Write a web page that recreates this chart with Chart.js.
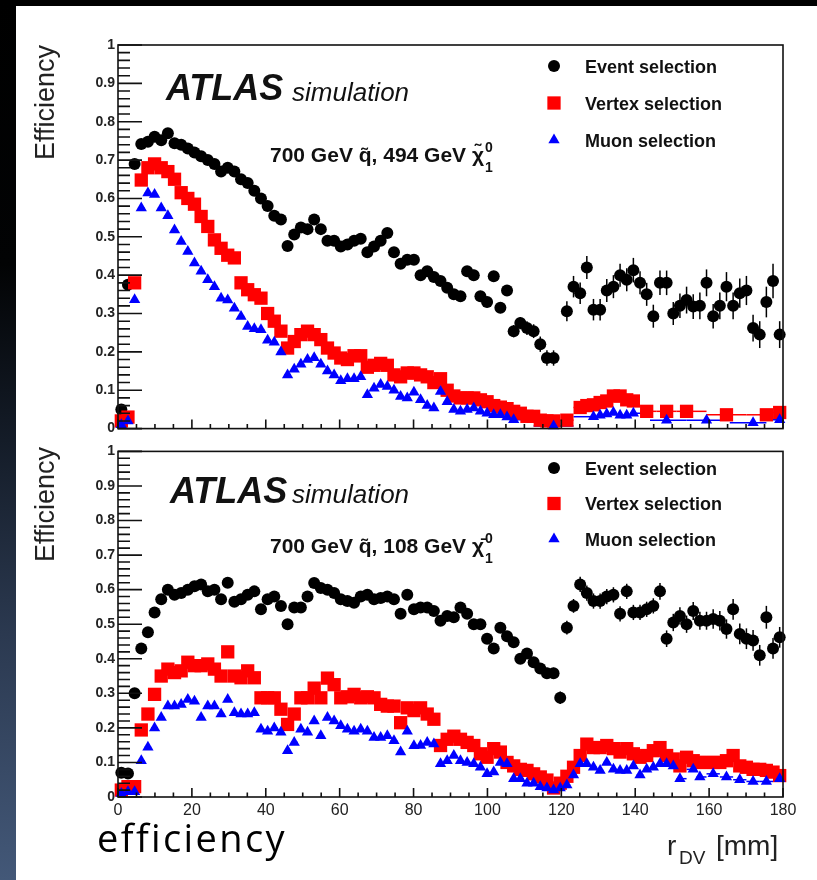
<!DOCTYPE html>
<html>
<head>
<meta charset="utf-8">
<title>Efficiency vs r_DV</title>
<script src="https://cdn.jsdelivr.net/npm/chart.js@4.4.1/dist/chart.umd.min.js"></script>
<style>
  html, body { margin: 0; padding: 0; background: #000; }
  #page { position: relative; width: 817px; height: 880px; overflow: hidden; background: #000; }
  #strip { position: absolute; left: 0; top: 0; width: 16px; height: 880px;
           background: linear-gradient(to bottom, #000 0%, #020304 30%, #141c28 50%, #2b3950 72%, #435878 100%); }
  #panel { position: absolute; left: 16px; top: 6px; width: 801px; height: 874px; background: #fff; }
  canvas { position: absolute; left: 0; }
  #topChart { top: 0; }
  #bottomChart { top: 440px; }
</style>
</head>
<body>
<div id="page">
  <div id="strip"></div>
  <div id="panel"></div>
  <canvas id="topChart" width="817" height="440"></canvas>
  <canvas id="bottomChart" width="817" height="440"></canvas>
</div>
<script>
// r_DV bin centres [mm]
const rBins = [
  0.9, 2.7, 4.5, 6.3, 8.1, 9.9, 11.7, 13.5, 15.3, 17.1,
  18.9, 20.7, 22.5, 24.3, 26.1, 27.9, 29.7, 31.5, 33.3, 35.1,
  36.9, 38.7, 40.5, 42.3, 44.1, 45.9, 47.7, 49.5, 51.3, 53.1,
  54.9, 56.7, 58.5, 60.3, 62.1, 63.9, 65.7, 67.5, 69.3, 71.1,
  72.9, 74.7, 76.5, 78.3, 80.1, 81.9, 83.7, 85.5, 87.3, 89.1,
  90.9, 92.7, 94.5, 96.3, 98.1, 99.9, 101.7, 103.5, 105.3, 107.1,
  108.9, 110.7, 112.5, 114.3, 116.1, 117.9, 119.7, 121.5, 123.3, 125.1,
  126.9, 128.7, 130.5, 132.3, 134.1, 135.9, 137.7, 139.5, 141.3, 143.1,
  144.9, 146.7, 148.5, 150.3, 152.1, 153.9, 155.7, 157.5, 159.3, 161.1,
  162.9, 164.7, 166.5, 168.3, 170.1, 171.9, 173.7, 175.5, 177.3, 179.1
];

const xTickVals = [0, 20, 40, 60, 80, 100, 120, 140, 160, 180];
const yTickVals = [0, 0.1, 0.2, 0.3, 0.4, 0.5, 0.6, 0.7, 0.8, 0.9, 1];
const yTickLabels = ['0', '0.1', '0.2', '0.3', '0.4', '0.5', '0.6', '0.7', '0.8', '0.9', '1'];
const seriesNames = ['Event selection', 'Vertex selection', 'Muon selection'];

// 700 GeV squark, 494 GeV neutralino
const eventTop = [
  0.05, 0.375, 0.69, 0.742, 0.748, 0.761, 0.752, 0.77, 0.744, 0.74,
  0.73, 0.72, 0.71, 0.70, 0.69, 0.67, 0.68, 0.67, 0.65, 0.64,
  0.62, 0.60, 0.58, 0.555, 0.545, 0.476, 0.506, 0.524, 0.52, 0.545,
  0.52, 0.49, 0.49, 0.475, 0.48, 0.49, 0.495, 0.46, 0.475, 0.49,
  0.51, 0.46, 0.43, 0.44, 0.44, 0.40, 0.41, 0.395, 0.385, 0.367,
  0.35, 0.345, 0.41, 0.40, 0.345, 0.33, 0.397, 0.315, 0.36, 0.254,
  0.275, 0.262, 0.254, 0.22, 0.184, 0.184, null, 0.306, 0.37, 0.353,
  0.42, 0.31, 0.31, 0.36, 0.37, 0.40, 0.388, 0.413, 0.38, 0.35,
  0.293, 0.38, 0.38, 0.30, 0.32, 0.335, 0.318, 0.32, 0.38, 0.293,
  0.32, 0.37, 0.32, 0.353, 0.36, 0.262, 0.245, 0.33, 0.385, 0.245
];
const eventErrTop = [
  0.01, 0.01, 0.01, 0.008, 0.008, 0.008, 0.008, 0.008, 0.008, 0.008,
  0.008, 0.008, 0.008, 0.008, 0.008, 0.008, 0.008, 0.008, 0.008, 0.008,
  0.008, 0.008, 0.008, 0.008, 0.008, 0.008, 0.008, 0.008, 0.008, 0.008,
  0.01, 0.01, 0.01, 0.01, 0.01, 0.01, 0.01, 0.01, 0.01, 0.01,
  0.012, 0.012, 0.012, 0.012, 0.012, 0.012, 0.012, 0.012, 0.012, 0.012,
  0.014, 0.014, 0.014, 0.014, 0.014, 0.014, 0.014, 0.014, 0.014, 0.016,
  0.016, 0.018, 0.018, 0.02, 0.02, 0.02, 0, 0.026, 0.028, 0.028,
  0.03, 0.028, 0.028, 0.03, 0.03, 0.03, 0.03, 0.032, 0.03, 0.03,
  0.03, 0.032, 0.032, 0.03, 0.032, 0.035, 0.032, 0.035, 0.035, 0.032,
  0.035, 0.038, 0.035, 0.038, 0.038, 0.035, 0.035, 0.04, 0.045, 0.035
];
const vertexTop = [
  0.02, 0.03, 0.38, 0.648, 0.68, 0.69, 0.68, 0.67, 0.65, 0.615,
  0.60, 0.585, 0.553, 0.527, 0.492, 0.47, 0.452, 0.445, 0.38, 0.362,
  0.349, 0.34, 0.30, 0.28, 0.254, 0.21, 0.227, 0.245, 0.254, 0.245,
  0.232, 0.21, 0.197, 0.184, 0.18, 0.19, 0.19, 0.16, 0.165, 0.17,
  0.165, 0.14, 0.135, 0.145, 0.145, 0.14, 0.135, 0.12, 0.13, 0.10,
  0.085, 0.08, 0.08, 0.08, 0.075, 0.07, 0.06, 0.056, 0.052, 0.045,
  0.04, 0.032, 0.032, 0.022, 0.02, 0.02, null, 0.022, null, 0.055,
  0.06, 0.062, 0.068, 0.072, 0.085, 0.085, 0.075, 0.072, null, 0.045,
  null, null, 0.045, null, null, 0.045, null, null, null, null,
  null, 0.036, null, null, null, null, null, 0.036, null, 0.042
];
const muonTop = [
  0.01, 0.02, 0.336, 0.575, 0.614, 0.61, 0.575, 0.555, 0.518, 0.488,
  0.462, 0.432, 0.41, 0.388, 0.37, 0.34, 0.335, 0.314, 0.292, 0.266,
  0.26, 0.258, 0.23, 0.225, 0.20, 0.14, 0.155, 0.168, 0.18, 0.185,
  0.168, 0.15, 0.14, 0.125, 0.13, 0.13, 0.135, 0.088, 0.105, 0.115,
  0.11, 0.10, 0.084, 0.08, 0.095, 0.075, 0.06, 0.054, 0.097, 0.07,
  0.05, 0.045, 0.05, 0.054, 0.045, 0.04, 0.036, 0.036, 0.03, 0.023,
  null, null, null, null, null, 0.007, null, null, null, null,
  null, 0.031, 0.035, 0.038, 0.042, 0.035, 0.035, 0.04, null, null,
  null, null, 0.022, null, null, null, null, null, 0.022, null,
  null, null, null, null, null, 0.015, null, null, null, 0.023
];

// 700 GeV squark, 108 GeV neutralino
const eventBottom = [
  0.07, 0.068, 0.30, 0.43, 0.477, 0.534, 0.572, 0.60, 0.585, 0.59,
  0.60, 0.61, 0.615, 0.595, 0.60, 0.572, 0.62, 0.565, 0.572, 0.585,
  0.595, 0.543, 0.572, 0.58, 0.553, 0.50, 0.548, 0.548, 0.58, 0.619,
  0.605, 0.60, 0.59, 0.572, 0.567, 0.562, 0.58, 0.585, 0.572, 0.576,
  0.58, 0.572, 0.53, 0.585, 0.543, 0.548, 0.548, 0.538, 0.51, 0.524,
  0.52, 0.548, 0.53, 0.50, 0.50, 0.458, 0.43, 0.49, 0.465, 0.448,
  0.40, 0.415, 0.39, 0.372, 0.358, 0.358, 0.287, 0.49, 0.553, 0.615,
  0.59, 0.567, 0.567, 0.58, 0.585, 0.53, 0.595, 0.534, 0.534, 0.543,
  0.553, 0.595, 0.458, 0.505, 0.524, 0.50, 0.538, 0.51, 0.51, 0.515,
  0.51, 0.486, 0.543, 0.472, 0.458, 0.453, 0.41, 0.52, 0.43, 0.462
];
const eventErrBottom = [
  0.01, 0.01, 0.01, 0.01, 0.01, 0.008, 0.008, 0.008, 0.008, 0.008,
  0.008, 0.008, 0.008, 0.008, 0.008, 0.008, 0.008, 0.008, 0.008, 0.008,
  0.008, 0.008, 0.008, 0.008, 0.008, 0.008, 0.008, 0.008, 0.008, 0.008,
  0.009, 0.009, 0.009, 0.009, 0.009, 0.009, 0.009, 0.009, 0.009, 0.009,
  0.01, 0.01, 0.01, 0.01, 0.01, 0.01, 0.01, 0.01, 0.01, 0.01,
  0.012, 0.012, 0.012, 0.012, 0.012, 0.012, 0.012, 0.012, 0.012, 0.012,
  0.014, 0.014, 0.015, 0.015, 0.016, 0.016, 0.018, 0.02, 0.02, 0.022,
  0.022, 0.022, 0.022, 0.022, 0.022, 0.022, 0.022, 0.022, 0.022, 0.022,
  0.022, 0.024, 0.024, 0.025, 0.025, 0.025, 0.026, 0.026, 0.026, 0.028,
  0.028, 0.028, 0.03, 0.03, 0.03, 0.03, 0.03, 0.033, 0.03, 0.03
];
const vertexBottom = [
  0.02, 0.03, 0.03, 0.194, 0.24, 0.297, 0.35, 0.37, 0.36, 0.365,
  0.39, 0.38, 0.38, 0.385, 0.37, 0.35, 0.42, 0.35, 0.345, 0.365,
  0.345, 0.287, 0.287, 0.287, 0.254, 0.21, 0.24, 0.287, 0.287, 0.315,
  0.287, 0.344, 0.325, 0.287, 0.29, 0.297, 0.287, 0.29, 0.287, 0.268,
  0.263, 0.263, 0.215, 0.258, 0.25, 0.258, 0.24, 0.225, 0.149, 0.167,
  0.176, 0.167, 0.158, 0.149, 0.125, 0.115, 0.14, 0.13, 0.10, 0.09,
  0.08, 0.077, 0.067, 0.058, 0.049, 0.026, 0.04, 0.06, 0.086, 0.12,
  0.153, 0.143, 0.143, 0.149, 0.14, 0.13, 0.14, 0.125, 0.115, 0.12,
  0.134, 0.143, 0.12, 0.11, 0.09, 0.115, 0.105, 0.10, 0.10, 0.10,
  0.10, 0.105, 0.12, 0.09, 0.086, 0.08, 0.08, 0.077, 0.072, 0.062
];
const muonBottom = [
  0.01, 0.015, 0.015, 0.105, 0.144, 0.20, 0.23, 0.263, 0.263, 0.268,
  0.282, 0.277, 0.23, 0.263, 0.263, 0.24, 0.282, 0.244, 0.24, 0.24,
  0.244, 0.196, 0.19, 0.20, 0.187, 0.134, 0.158, 0.196, 0.187, 0.22,
  0.177, 0.23, 0.22, 0.206, 0.196, 0.19, 0.196, 0.19, 0.172, 0.172,
  0.177, 0.163, 0.13, 0.19, 0.148, 0.149, 0.158, 0.153, 0.096, 0.105,
  0.12, 0.105, 0.10, 0.096, 0.086, 0.067, 0.072, 0.10, 0.096, 0.053,
  0.053, 0.04, 0.04, 0.03, 0.026, 0.02, 0.026, 0.035, 0.064, 0.096,
  0.096, 0.086, 0.077, 0.10, 0.08, 0.077, 0.077, 0.09, 0.064, 0.08,
  0.086, 0.096, 0.096, 0.09, 0.053, null, 0.08, 0.058, null, 0.067,
  null, 0.058, null, 0.05, null, 0.045, null, 0.045, null, 0.053
];

const FONT = '"Liberation Sans", Arial, Helvetica, sans-serif';

/**
 * ROOT-like frame: error bars, inward ticks, labels and legend
 */
const rootStyle = {
    id: 'rootStyle',
    beforeDatasetsDraw(chart, args, o) {
        const { ctx, scales: { x, y } } = chart;
        ctx.save();
        ctx.lineWidth = 1.5;

        // vertical errors on the event selection
        ctx.strokeStyle = '#000';
        chart.data.datasets[0].data.forEach(function (p, i) {
            if (p.y === null || !o.errors[i]) return;
            const px = x.getPixelForValue(p.x);
            ctx.beginPath();
            ctx.moveTo(px, y.getPixelForValue(p.y - o.errors[i]));
            ctx.lineTo(px, y.getPixelForValue(p.y + o.errors[i]));
            ctx.stroke();
        });

        // horizontal bin-width bars on vertex and muon points
        [1, 2].forEach(function (d) {
            const ds = chart.data.datasets[d];
            const pts = ds.data.filter(p => p.y !== null);
            ctx.strokeStyle = ds.backgroundColor;
            pts.forEach(function (p, k) {
                const lo = k > 0 ? (pts[k - 1].x + p.x) / 2 : p.x - 0.9;
                const hi = k < pts.length - 1 ? (pts[k + 1].x + p.x) / 2 : Math.min(p.x + 0.9, x.max);
                const py = y.getPixelForValue(p.y);
                ctx.beginPath();
                ctx.moveTo(x.getPixelForValue(lo), py);
                ctx.lineTo(x.getPixelForValue(hi), py);
                ctx.stroke();
            });
        });
        ctx.restore();
    },
    afterDatasetsDraw(chart) {
        const { ctx, chartArea: a, scales: { x, y } } = chart;
        ctx.save();
        ctx.strokeStyle = '#111';
        ctx.lineWidth = 1.6;
        ctx.strokeRect(a.left, a.top, a.right - a.left, a.bottom - a.top);
        ctx.beginPath();
        // x: minor every 5 mm, major at the labelled ticks
        for (let v = x.min; v <= x.max + 1e-6; v += 5) {
            const px = x.getPixelForValue(v);
            const major = x.ticks.some(t => Math.abs(t.value - v) < 1e-6);
            ctx.moveTo(px, a.bottom);
            ctx.lineTo(px, a.bottom - (major ? 9 : 4.5));
        }
        // y: minor every 0.02, major at the labelled ticks
        for (let k = 0; k <= 50; k++) {
            const py = y.getPixelForValue(k * 0.02);
            ctx.moveTo(a.left, py);
            ctx.lineTo(a.left + (k % 5 === 0 ? 24 : 12), py);
        }
        ctx.stroke();
        ctx.restore();
    },
    afterDraw(chart, args, o) {
        const ctx = chart.ctx;
        ctx.save();
        ctx.fillStyle = '#111';
        ctx.textAlign = 'left';
        ctx.textBaseline = 'alphabetic';

        // ATLAS simulation
        ctx.font = 'italic bold 36px ' + FONT;
        ctx.fillText('ATLAS', o.atlas[0], o.atlas[1]);
        ctx.font = 'italic 26px ' + FONT;
        ctx.fillText('simulation', o.simX, o.atlas[1] + o.simDy);

        // process label
        ctx.font = 'bold 21px ' + FONT;
        ctx.fillText(o.process, o.proc[0], o.proc[1]);
        const pw = ctx.measureText(o.process).width;
        ctx.font = 'bold 14px ' + FONT;
        ctx.fillText('0', o.proc[0] + pw + 1, o.proc[1] - 10);
        ctx.fillText('1', o.proc[0] + pw + 1, o.proc[1] + 10);

        // legend, built from the datasets
        ctx.font = 'bold 18px ' + FONT;
        chart.data.datasets.forEach(function (ds, i) {
            const ly = o.legend[1] + i * o.legendStep;
            ctx.fillStyle = ds.backgroundColor;
            Chart.helpers.drawPoint(ctx, {
                pointStyle: ds.pointStyle, radius: ds.pointRadius, rotation: 0, borderWidth: 0
            }, o.legend[0], ly);
            ctx.fillStyle = '#111';
            ctx.fillText(ds.label, o.legend[0] + 31, ly + 6.5);
        });

        // y axis title
        ctx.save();
        ctx.font = '27px ' + FONT;
        ctx.fillStyle = '#222';
        ctx.translate(o.yTitle[0], o.yTitle[1]);
        ctx.rotate(-Math.PI / 2);
        ctx.textAlign = 'right';
        ctx.fillText('Efficiency', 0, 0);
        ctx.restore();

        if (o.xTitle) {
            ctx.fillStyle = '#222';
            ctx.font = '28px ' + FONT;
            ctx.fillText('r', 667, 415);
            ctx.font = '19px ' + FONT;
            ctx.fillText('DV', 679, 424);
            ctx.font = '28px ' + FONT;
            ctx.fillText('[mm]', 716, 415);

            // slide caption
            ctx.fillStyle = '#000';
            ctx.font = '38px "Open Sans", "Liberation Sans", sans-serif';
            const w = ctx.measureText('efficiency').width;
            ctx.letterSpacing = ((190 - w) / 10) + 'px';
            ctx.fillText('efficiency', 97, 412);
        }
        ctx.restore();
    }
};

function makeDatasets(ev, vx, mu) {
    const toPoints = vals => vals.map((v, i) => ({ x: rBins[i], y: v }));
    return [
        { label: seriesNames[0], data: toPoints(ev), pointStyle: 'circle', pointRadius: 6,
          backgroundColor: '#000000', borderColor: '#000000', borderWidth: 0, order: 3 },
        { label: seriesNames[1], data: toPoints(vx), pointStyle: 'rect', pointRadius: 9.4,
          backgroundColor: '#ff0000', borderColor: '#ff0000', borderWidth: 0, order: 2 },
        { label: seriesNames[2], data: toPoints(mu), pointStyle: 'triangle', pointRadius: 6.5,
          backgroundColor: '#0000ff', borderColor: '#0000ff', borderWidth: 0, order: 1 }
    ].map(d => Object.assign(d, { showLine: false, clip: false, pointHoverRadius: d.pointRadius }));
}

function makeChart(id, datasets, layout, style) {
    return new Chart(document.getElementById(id), {
        type: 'scatter',
        data: { datasets: datasets },
        options: {
            responsive: false,
            animation: false,
            devicePixelRatio: 1,
            events: [],
            layout: { padding: { left: 0, right: 34, top: layout.top, bottom: 0 } },
            plugins: { legend: { display: false }, tooltip: { enabled: false }, rootStyle: style },
            scales: {
                x: {
                    type: 'linear', min: 0, max: 180,
                    afterBuildTicks: s => { s.ticks = xTickVals.map(v => ({ value: v })); },
                    afterFit: s => { s.height = layout.xHeight; },
                    grid: { display: false, drawTicks: false },
                    border: { display: false },
                    ticks: { display: layout.xLabels, autoSkip: false, maxRotation: 0, padding: 4,
                             color: '#222', font: { family: FONT, size: 16 } }
                },
                y: {
                    type: 'linear', min: 0, max: 1,
                    afterBuildTicks: s => { s.ticks = yTickVals.map(v => ({ value: v })); },
                    afterFit: s => { s.width = 118; },
                    grid: { display: false, drawTicks: false },
                    border: { display: false },
                    ticks: { autoSkip: false, padding: 3, color: '#222',
                             font: { family: FONT, size: 14, weight: 'bold' },
                             callback: (v, i) => yTickLabels[i] }
                }
            }
        },
        plugins: [rootStyle]
    });
}

document.addEventListener('DOMContentLoaded', function () {
    makeChart('topChart', makeDatasets(eventTop, vertexTop, muonTop),
        { top: 45, xHeight: 11, xLabels: false },
        { errors: eventErrTop, atlas: [166, 100], simX: 292, simDy: 1,
          process: '700 GeV q\u0303, 494 GeV \u03c7\u0303', proc: [270, 162],
          legend: [554, 66], legendStep: 37, yTitle: [54, 45], xTitle: false });

    makeChart('bottomChart', makeDatasets(eventBottom, vertexBottom, muonBottom),
        { top: 7, xHeight: 83, xLabels: true },
        { errors: eventErrBottom, atlas: [170, 63], simX: 292, simDy: 0,
          process: '700 GeV q\u0303, 108 GeV \u03c7\u0304', proc: [270, 113],
          legend: [554, 28], legendStep: 35.5, yTitle: [54, 7], xTitle: true });
});
</script>
</body>
</html>
